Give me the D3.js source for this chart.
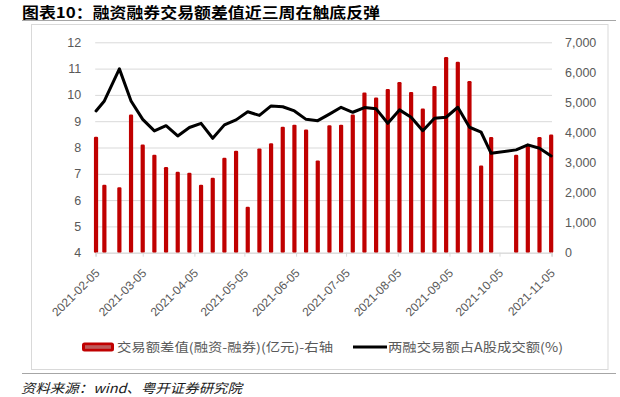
<!DOCTYPE html>
<html><head><meta charset="utf-8">
<script src="https://cdn.jsdelivr.net/npm/d3@7"></script>
<style>
html,body{margin:0;padding:0;background:#fff;}
svg{display:block;}
</style></head>
<body>
<svg id="chart" width="620" height="397"></svg>
<script>
// ---- data ----
const dates = ["2021-02-05","2021-02-10","2021-02-19","2021-02-26","2021-03-05","2021-03-12","2021-03-19","2021-03-26","2021-04-02","2021-04-09","2021-04-16","2021-04-23","2021-04-30","2021-05-07","2021-05-14","2021-05-21","2021-05-28","2021-06-04","2021-06-11","2021-06-18","2021-06-25","2021-07-02","2021-07-09","2021-07-16","2021-07-23","2021-07-30","2021-08-06","2021-08-13","2021-08-20","2021-08-27","2021-09-03","2021-09-10","2021-09-17","2021-09-24","2021-09-30","2021-10-15","2021-10-22","2021-10-29","2021-11-05"];
const diffValues = [3860,2260,2180,4600,3600,3260,2850,2690,2660,2260,2490,3160,3390,1530,3470,3640,4190,4260,4100,3070,4240,4260,4600,5330,5160,5450,5680,5350,4800,5550,6510,6350,5710,2900,3850,3260,3610,3850,3930];
const shareValues = [9.39,9.77,10.99,9.77,9.07,8.63,8.83,8.44,8.76,8.92,8.35,8.86,9.05,9.36,9.22,9.58,9.55,9.39,9.07,9.02,9.27,9.53,9.34,9.52,9.47,8.92,9.43,9.15,8.64,9.11,9.15,9.53,8.77,8.58,7.78,7.91,8.10,7.97,7.68];
const xTickLabels = ["2021-02-05","2021-03-05","2021-04-05","2021-05-05","2021-06-05","2021-07-05","2021-08-05","2021-09-05","2021-10-05","2021-11-05"];
const leftTicks = [4,5,6,7,8,9,10,11,12];
const rightTicks = [0,1000,2000,3000,4000,5000,6000,7000];
const titleText = "图表10：融资融券交易额差值近三周在触底反弹";
const seriesNames = ["交易额差值(融资-融券)(亿元)-右轴","两融交易额占A股成交额(%)"];
const sourceText = "资料来源：wind、粤开证券研究院";

// ---- layout ----
const svg = d3.select("#chart");
const parse = d3.utcParse("%Y-%m-%d");
const HALF = 12*3600*1000;
const plotL = 95.2, plotR = 552, plotT = 42.3, plotB = 252.7;
const x = d3.scaleUtc().domain([parse("2021-02-05"), parse("2021-11-06")]).range([plotL, plotR]);
const yL = d3.scaleLinear().domain([4,12]).range([plotB, plotT]);
const yR = d3.scaleLinear().domain([0,7000]).range([plotB, plotT]);
const cx = d => x(new Date(parse(d).getTime() + HALF));

const sans = "'Liberation Sans', Arial, sans-serif";
const cjk = "'Noto Sans CJK SC', 'Noto Sans', sans-serif";
const grey = "#595959";

// title
svg.append("text").attr("x",22).attr("y",17.8).attr("font-family",cjk).attr("font-weight",700)
  .attr("font-size",15).attr("fill","#000").attr("textLength",358).attr("lengthAdjust","spacingAndGlyphs").text(titleText);
svg.append("line").attr("x1",22).attr("x2",616).attr("y1",20.5).attr("y2",20.5).attr("stroke","#a6a6a6").attr("stroke-width",1);

// chart box
svg.append("rect").attr("x",31.5).attr("y",24.5).attr("width",576.5).attr("height",345).attr("fill","#fff").attr("stroke","#d9d9d9").attr("stroke-width",1);

// gridlines + left axis
const gL = svg.append("g").attr("transform",`translate(${plotL},0)`)
  .call(d3.axisLeft(yL).tickValues(leftTicks).tickSize(-(plotR-plotL)).tickPadding(14).tickFormat(d3.format("d")));
gL.select(".domain").remove();
gL.selectAll(".tick line").attr("stroke","#d9d9d9").attr("stroke-width",1);
gL.selectAll(".tick text").attr("fill",grey).attr("font-family",sans).attr("font-size",12.5);

// right axis
const gR = svg.append("g").attr("transform",`translate(${plotR},0)`)
  .call(d3.axisRight(yR).tickValues(rightTicks).tickSize(0).tickPadding(13).tickFormat(d3.format(",")));
gR.select(".domain").remove();
gR.selectAll(".tick text").attr("fill",grey).attr("font-family",sans).attr("font-size",12.5);

// bars (right axis)
svg.append("g").selectAll("rect").data(dates.map((d,i)=>({d, v: diffValues[i]})).filter(o=>o.v!=null))
  .join("rect")
  .attr("x", o => cx(o.d) - 2.1).attr("width", 4.2)
  .attr("y", o => yR(o.v)).attr("height", o => yR(0) - yR(o.v))
  .attr("rx", 1.2).attr("fill", "#c00000");

// x axis
const gX = svg.append("g").attr("transform",`translate(0,${plotB})`)
  .call(d3.axisBottom(x).tickValues(xTickLabels.map(s => new Date(parse(s).getTime()+HALF)))
    .tickSize(4).tickFormat(d3.utcFormat("%Y-%m-%d")));
gX.select(".domain").attr("stroke","#d9d9d9");
gX.selectAll(".tick line").attr("stroke","#d9d9d9");
gX.selectAll(".tick text").attr("fill",grey).attr("font-family",sans).attr("font-size",12)
  .attr("text-anchor","end").attr("x",0).attr("y",0).attr("dy",0)
  .attr("transform","translate(4,21) rotate(-45)");

// line (left axis)
const lineGen = d3.line().defined(o => o.v != null).x(o => cx(o.d)).y(o => yL(o.v));
svg.append("path").datum(dates.map((d,i)=>({d, v: shareValues[i]})))
  .attr("d", lineGen).attr("fill","none").attr("stroke","#000").attr("stroke-width",3)
  .attr("stroke-linejoin","round").attr("stroke-linecap","round");

// legend
const lg = svg.append("g");
lg.append("rect").attr("x",82).attr("y",342.5).attr("width",32).attr("height",9).attr("rx",2.5).attr("fill","#c00000");
lg.append("rect").attr("x",85).attr("y",345.2).attr("width",26).attr("height",3.6).attr("fill","#bd5b5b");
lg.append("text").attr("x",117).attr("y",347).attr("dy","0.36em").attr("font-family",cjk).attr("font-size",12.5)
  .attr("fill",grey).attr("textLength",216).attr("lengthAdjust","spacingAndGlyphs").text(seriesNames[0]);
lg.append("line").attr("x1",353).attr("x2",387).attr("y1",347).attr("y2",347).attr("stroke","#000").attr("stroke-width",3);
lg.append("text").attr("x",388).attr("y",347).attr("dy","0.36em").attr("font-family",cjk).attr("font-size",12.5)
  .attr("fill",grey).attr("textLength",175).attr("lengthAdjust","spacingAndGlyphs").text(seriesNames[1]);

// source
svg.append("line").attr("x1",22).attr("x2",616).attr("y1",373.5).attr("y2",373.5).attr("stroke","#a6a6a6").attr("stroke-width",1);
svg.append("text").attr("x",21).attr("y",393).attr("font-family",cjk).attr("font-style","italic")
  .attr("font-size",13).attr("fill","#1a1a1a").attr("textLength",221).attr("lengthAdjust","spacingAndGlyphs").text(sourceText);
</script>
</body></html>
